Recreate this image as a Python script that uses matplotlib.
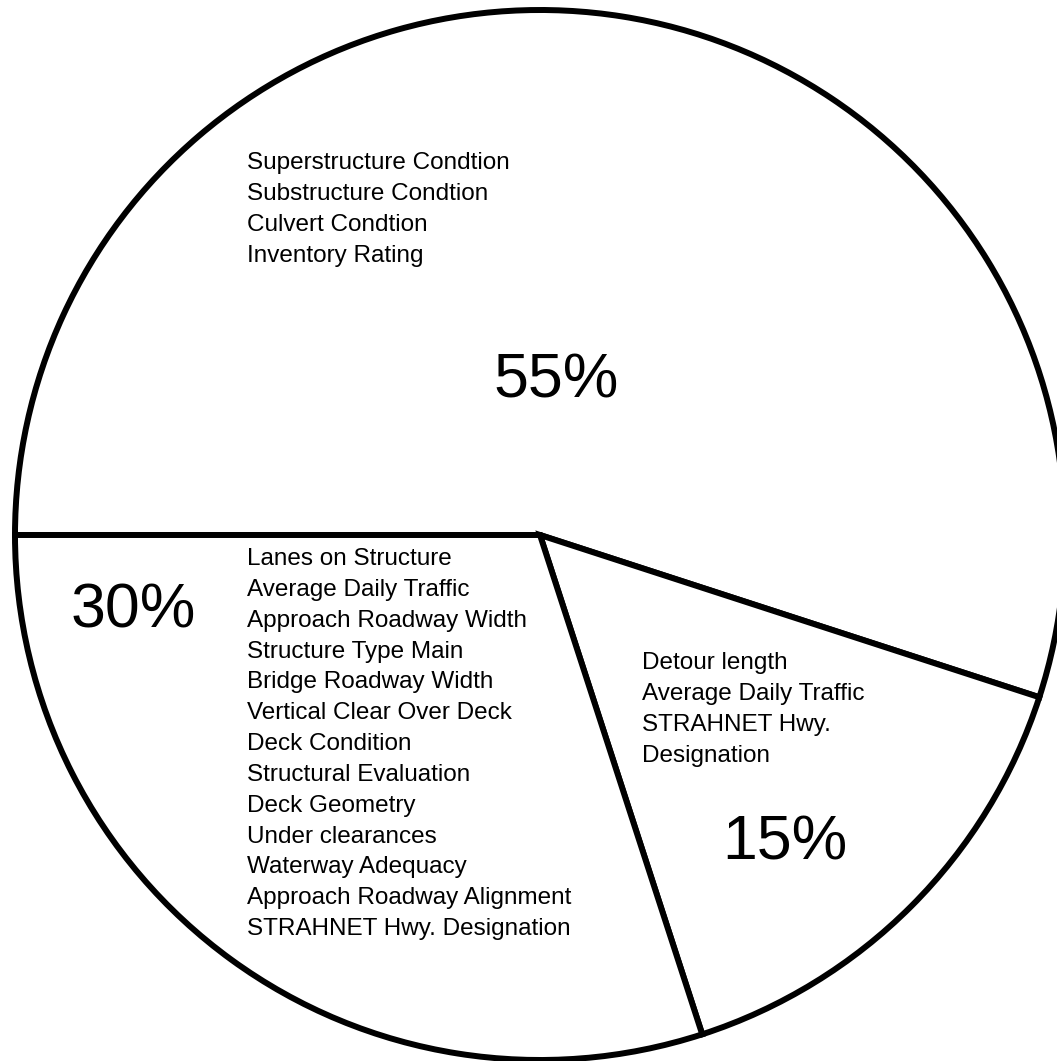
import matplotlib
matplotlib.use('Agg')
import matplotlib.pyplot as plt

# Weight shares of the three groups of bridge rating factors
shares = [55, 15, 30]
pct_labels = ['55%', '15%', '30%']

condition_factors = ['Superstructure Condtion', 'Substructure Condtion',
                     'Culvert Condtion', 'Inventory Rating']
importance_factors = ['Detour length', 'Average Daily Traffic',
                      'STRAHNET Hwy.', 'Designation']
serviceability_factors = ['Lanes on Structure', 'Average Daily Traffic',
                          'Approach Roadway Width', 'Structure Type Main',
                          'Bridge Roadway Width', 'Vertical Clear Over Deck',
                          'Deck Condition', 'Structural Evaluation',
                          'Deck Geometry', 'Under clearances',
                          'Waterway Adequacy', 'Approach Roadway Alignment',
                          'STRAHNET Hwy. Designation']

plt.rcParams['font.family'] = ['Liberation Sans', 'DejaVu Sans']

W, H = 1057, 1061
fig = plt.figure(figsize=(W / 100, H / 100), dpi=100)
ax = fig.add_axes([0, 0, 1, 1])

ax.pie(shares, startangle=180, counterclock=False, center=(540, H - 535),
       radius=525, colors=['white'] * 3,
       wedgeprops=dict(edgecolor='black', linewidth=4.3, joinstyle='miter'))
ax.set_xlim(0, W)
ax.set_ylim(0, H)
ax.set_aspect('equal')
ax.axis('off')

# big percentage labels
ax.text(556, H - 381, pct_labels[0], fontsize=45, ha='center', va='center')
ax.text(785, H - 843, pct_labels[1], fontsize=45, ha='center', va='center')
ax.text(133, H - 611, pct_labels[2], fontsize=45, ha='center', va='center')

# factor lists
ax.text(247, H - 152, '\n'.join(condition_factors), fontsize=17.5,
        ha='left', va='top', linespacing=1.52)
ax.text(642, H - 652, '\n'.join(importance_factors), fontsize=17.5,
        ha='left', va='top', linespacing=1.52)
ax.text(247, H - 548, '\n'.join(serviceability_factors), fontsize=17.5,
        ha='left', va='top', linespacing=1.52)

fig.savefig('out.png', dpi=100, facecolor='white')
